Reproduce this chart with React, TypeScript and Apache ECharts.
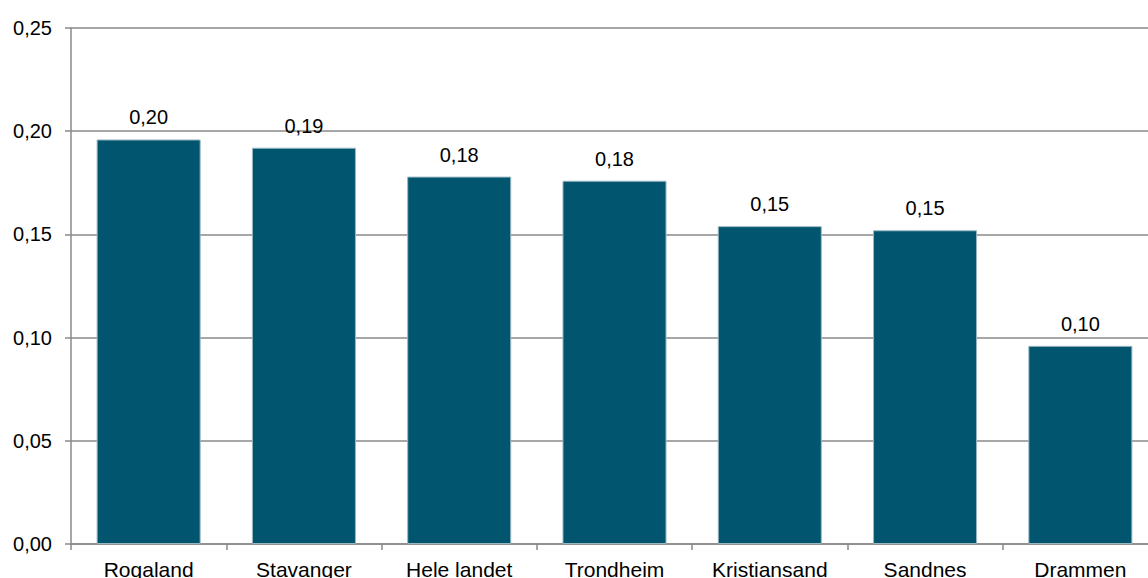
import React, { useEffect, useRef } from "react";
import * as echarts from "echarts";

const categories = ["Rogaland", "Stavanger", "Hele landet", "Trondheim", "Kristiansand", "Sandnes", "Drammen"];
const values = [0.196, 0.192, 0.178, 0.176, 0.154, 0.152, 0.096];
const yMin = 0;
const yMax = 0.25;
const yInterval = 0.05;

const fmt = (v: number) => v.toFixed(2).replace(".", ",");

export default function App() {
  const ref = useRef<HTMLDivElement>(null);
  useEffect(() => {
    if (!ref.current) return;
    const chart = echarts.init(ref.current, null, { renderer: "svg" });
    const font = "'Liberation Sans', Arial, sans-serif";
    const gray = "#8a8a8a";
    chart.setOption({
      animation: false,
      grid: { left: 71, top: 28, right: 12, bottom: 34, containLabel: false, outerBoundsMode: "none" },
      xAxis: {
        type: "category",
        data: categories,
        axisLine: { show: true, lineStyle: { color: gray, width: 1.5 } },
        axisTick: { show: true, length: 6, lineStyle: { color: gray, width: 1.5 } },
        axisLabel: { color: "#000", fontFamily: font, fontSize: 21, margin: 15 },
      },
      yAxis: {
        type: "value",
        min: yMin,
        max: yMax,
        interval: yInterval,
        axisLine: { show: true, lineStyle: { color: gray, width: 1.5 } },
        axisTick: { show: true, length: 6, lineStyle: { color: gray, width: 1.5 } },
        splitLine: { show: true, lineStyle: { color: gray, width: 1.5 } },
        axisLabel: { color: "#000", fontFamily: font, fontSize: 20, margin: 19, formatter: (v: number) => fmt(v) },
      },
      series: [
        {
          type: "bar",
          data: values,
          barCategoryGap: "33%",
          itemStyle: { color: "#02556e", borderColor: "#9bb8c2", borderWidth: 1 },
          label: {
            show: true,
            position: "top",
            distance: 12,
            color: "#000",
            fontFamily: font,
            fontSize: 20,
            formatter: (p: any) => fmt(p.value),
          },
        },
      ],
    });
    return () => chart.dispose();
  }, []);
  return (
    <div style={{ position: "fixed", left: 0, top: 0, width: 1148, height: 578, overflow: "hidden", background: "#fff" }}>
      <div ref={ref} style={{ width: 1170, height: 578 }} />
    </div>
  );
}
